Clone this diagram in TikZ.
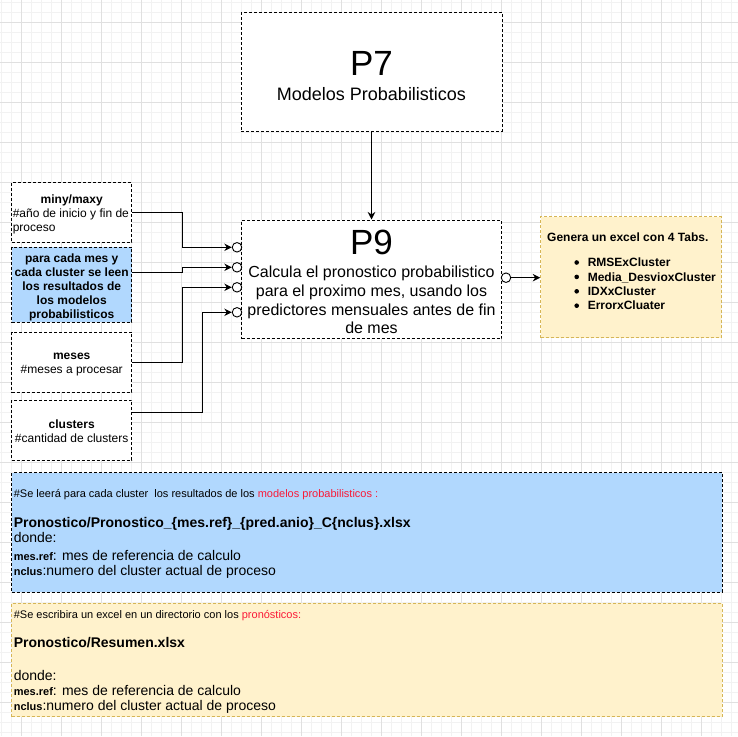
\documentclass[tikz,border=0pt]{standalone}
\usepackage{fontspec}
\setmainfont{Liberation Sans}
\usetikzlibrary{shapes,arrows.meta,positioning}
\definecolor{blueP}{RGB}{177,216,254}
\definecolor{yellowP}{RGB}{255,242,204}
\definecolor{yellowB}{RGB}{214,182,86}
\definecolor{redP}{RGB}{250,25,55}
\newcommand{\fsz}[2]{\fontsize{#1}{#2}\selectfont}
\newcommand{\topline}[1]{\rule{0pt}{#1}}

\begin{document}
\begin{tikzpicture}[x=1pt,y=-1pt,>={Stealth[length=7.5pt,width=7.5pt]},line width=1pt]
\tikzstyle{box} = [rectangle, draw, dash pattern=on 3pt off 2pt, fill=white, inner sep=0pt]
\tikzstyle{inbox} = [box, minimum width=120pt]
\tikzstyle{port} = [circle, draw, fill=white, minimum size=9.5pt, inner sep=0pt, line width=0.9pt]
\tikzstyle{txt} = [inner sep=0pt, font=\fsz{12}{14}]
\tikzstyle{big} = [inner sep=0pt, font=\fsz{35}{40}, anchor=base]
\tikzstyle{note} = [inner sep=0pt, font=\fsz{14}{16}, anchor=base west]
\useasboundingbox (0,0) rectangle (738,736);
% grid
\foreach \g in {1.5,11.5,...,731.5} \draw[black!5] (\g,0) -- (\g,736);
\foreach \g in {2.5,12.5,...,732.5} \draw[black!5] (0,\g) -- (738,\g);
\foreach \g in {21.5,61.5,...,701.5} \draw[black!12] (\g,0) -- (\g,736);
\foreach \g in {22.5,62.5,...,702.5} \draw[black!12] (0,\g) -- (738,\g);

% procesos
\node[box, minimum width=261pt, minimum height=118.5pt] (P7) at (371.5,71.75) {};
\node[big] (p7name) at (371.5,75) {P7};
\node[inner sep=0pt, font=\fsz{18}{20}, anchor=base] (p7txt) at (371.5,100) {Modelos Probabilisticos};
\node[box, minimum width=260pt, minimum height=118.5pt] (P9) at (371.5,279.25) {};
\node[big] (p9name) at (371.5,254) {P9};
\node[txt, font=\fsz{16}{18.7}, align=center, anchor=north] (p9txt) at (371.5,261.3)
  {\topline{16pt}Calcula el pronostico probabilistico\\para el proximo mes, usando los\\predictores mensuales antes de fin\\de mes};

% entradas
\node[inbox, minimum height=59.3pt] (miny) at (71.7,212.35) {};
\node[txt, font=\bfseries\fsz{12}{14}, anchor=base] (minytit) at (71.7,203.3) {miny/maxy};
\node[txt, align=left, anchor=north west] (minytxt) at (12.3,204.7) {\topline{12pt}\#año de inicio y fin de\\proceso};
\node[inbox, fill=blueP, minimum height=75.3pt] (lee) at (71.7,284.65) {};
\node[txt, font=\bfseries\fsz{12}{13.9}, align=center, anchor=north] (leetxt) at (71.7,250.3)
  {\topline{12pt}para cada mes y\\cada cluster se leen\\los resultados de\\los modelos\\probabilisticos};
\node[inbox, minimum height=60.3pt] (meses) at (71.7,362.15) {};
\node[txt, align=center, anchor=north] (mesestxt) at (71.7,347) {\topline{12pt}\textbf{meses}\\\#meses a procesar};
\node[inbox, minimum height=60pt] (clus) at (71.7,430) {};
\node[txt, align=center, anchor=north] (clustxt) at (71.7,415.7) {\topline{12pt}\textbf{clusters}\\\#cantidad de clusters};

% puertos
\node[port] (in1) at (237,247.3) {};
\node[port] (in2) at (237,267.3) {};
\node[port] (in3) at (237,287.3) {};
\node[port] (in4) at (237,312.3) {};
\node[port] (out1) at (506,277.7) {};

\draw[->] (P7.south) -- (P9.north);
\draw[->] (miny.east) -- ++(50,0) |- (in1.west);
\draw[->] ([yshift=12.35pt]lee.east) -- ++(50,0) |- (in2.west);
\draw[->] (meses.east) -- ++(50,0) |- (in3.west);
\draw[->] ([yshift=17.3pt]clus.east) -- ++(70,0) |- (in4.west);

% salida
\node[box, fill=yellowP, draw=yellowB, minimum width=180.3pt, minimum height=121pt] (res) at (630.85,277.2) {};
\draw[->] (out1.east) -- (out1.east -| res.west);
\node[txt, font=\bfseries\fsz{12}{14}, anchor=base west] (restit) at (546.7,241.7) {Genera un excel con 4 Tabs.};
\foreach \t [count=\i] in {RMSExCluster, Media\_DesvioxCluster, IDXxCluster, ErrorxCluater}{
  \node[txt, font=\bfseries\fsz{12}{14}, anchor=base west] (tab\i) at (587.3,{252.3+14.4*\i}) {\t};
  \fill ([xshift=-10.6pt, yshift=4.2pt]tab\i.base west) circle (2.3pt);
}

% notas
\node[box, fill=blueP, minimum width=710.3pt, minimum height=119.3pt] (lectura) at (366.85,532.35) {};
\node[note, font=\fsz{11}{13}] (lecL1) at (13.3,497.7) {\#Se leerá para cada cluster\ \ los resultados de los \textcolor{redP}{modelos probabilisticos :}};
\node[note, font=\bfseries\fsz{14}{16}] (lecL2) at (13.3,527.7) {Pronostico/Pronostico\_\{mes.ref\}\_\{pred.anio\}\_C\{nclus\}.xlsx};
\node[note] (lecL3) at (13.3,542.7) {donde:};
\node[note] (lecL4) at (13.3,560) {{\bfseries\fsz{11}{13}mes.ref}: mes de referencia de calculo};
\node[note] (lecL5) at (13.3,575) {{\bfseries\fsz{11}{13}nclus}:numero del cluster actual de proceso};

\node[box, fill=yellowP, draw=yellowB, minimum width=710.3pt, minimum height=113.5pt] (escritura) at (366.85,659.75) {};
\node[note, font=\fsz{11}{13}] (escL1) at (13.3,618) {\#Se escribira un excel en un directorio con los \textcolor{redP}{pronósticos:}};
\node[note, font=\bfseries\fsz{14}{16}] (escL2) at (13.3,647.3) {Pronostico/Resumen.xlsx};
\node[note] (escL3) at (13.3,680.7) {donde:};
\node[note] (escL4) at (13.3,695.3) {{\bfseries\fsz{11}{13}mes.ref}: mes de referencia de calculo};
\node[note] (escL5) at (13.3,710.7) {{\bfseries\fsz{11}{13}nclus}:numero del cluster actual de proceso};
\end{tikzpicture}
\end{document}
